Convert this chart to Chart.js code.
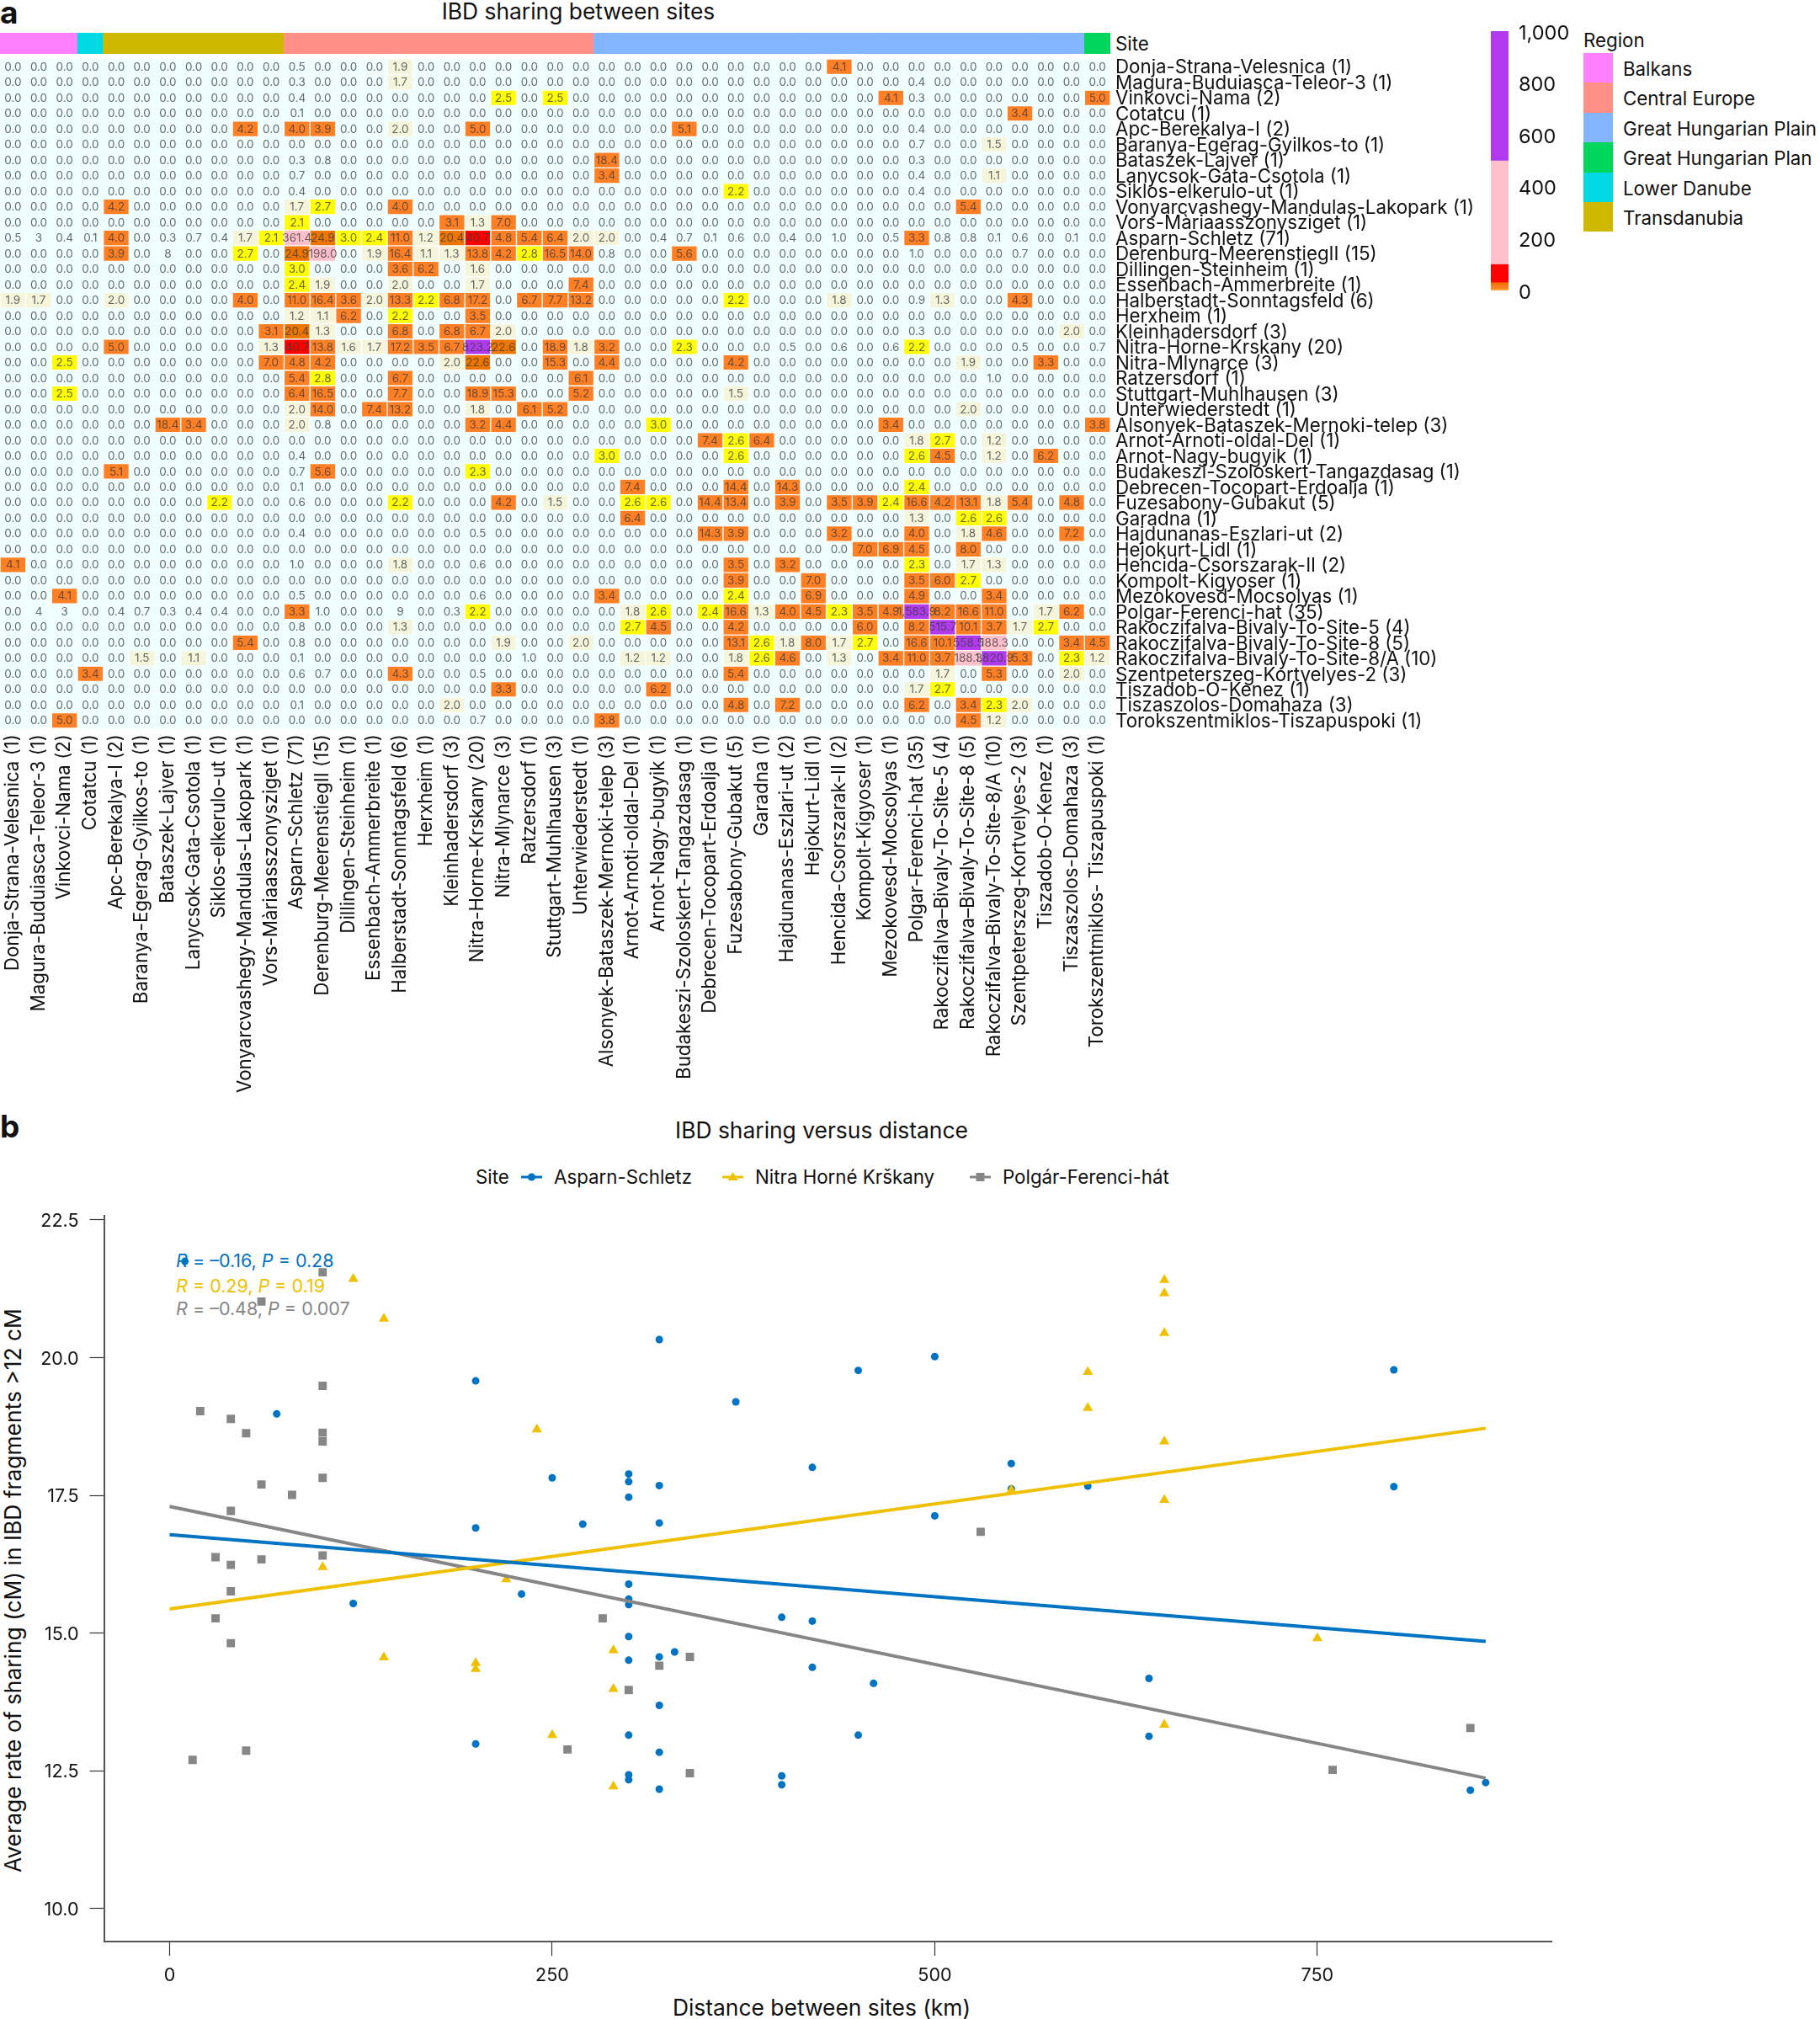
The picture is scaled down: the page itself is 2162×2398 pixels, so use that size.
<!DOCTYPE html>
<html>
<head>
<meta charset="utf-8">
<title>IBD sharing</title>
<script src="https://cdn.jsdelivr.net/npm/chart.js@4"></script>
<style>
  html, body { margin: 0; padding: 0; background: #fff; }
  body { position: relative; width: 2162px; height: 2398px; overflow: hidden; font-family: Inter, sans-serif; color: #111; }
  canvas { position: absolute; }
  .t { position: absolute; white-space: nowrap; line-height: 1; transform: translateY(-50%); font-size: 22.3px; }
  .c { transform: translate(-50%, -50%); }
  .swatch { position: absolute; left: 1881px; width: 35px; height: 35.4px; }
  svg { position: absolute; }
</style>
</head>
<body>
<div class="t" style="left:0;top:14px;font-size:37px;font-weight:700">a</div>
<div class="t" style="left:0;top:1337px;font-size:37px;font-weight:700">b</div>
<div class="t c" style="left:687px;top:13px;font-size:26.4px">IBD sharing between sites</div>
<div class="t" style="left:1325px;top:52px">Site</div>
<div class="t" style="left:1881px;top:48px">Region</div>
<div class="t c" style="left:976px;top:1342px;font-size:26.4px">IBD sharing versus distance</div>
<div class="t" style="left:565px;top:1398px">Site</div>
<div class="t" style="left:658px;top:1398px">Asparn-Schletz</div>
<div class="t" style="left:897px;top:1398px">Nitra Horné Krškany</div>
<div class="t" style="left:1191px;top:1398px">Polgár-Ferenci-hát</div>
<div class="t" style="left:209px;top:1498px;color:#0073C2;font-size:21.5px"><i>R</i> = –0.16, <i>P</i> = 0.28</div>
<div class="t" style="left:209px;top:1528px;color:#EFC000;font-size:21.5px"><i>R</i> = 0.29, <i>P</i> = 0.19</div>
<div class="t" style="left:209px;top:1555px;color:#868686;font-size:21.5px"><i>R</i> = –0.48, <i>P</i> = 0.007</div>
<div class="t c" style="left:15px;top:1889px;font-size:26.4px;transform:translate(-50%,-50%) rotate(-90deg)">Average rate of sharing (cM) in IBD fragments &gt;12 cM</div>
<div class="t c" style="left:976px;top:2384px;font-size:26.4px">Distance between sites (km)</div>
<svg style="left:619px;top:1388px" width="25" height="20"><path d="M0 10H25" stroke="#0073C2" stroke-width="3"/><circle cx="12.5" cy="10" r="4.5" fill="#0073C2"/></svg>
<svg style="left:858px;top:1388px" width="25" height="20"><path d="M0 10H25" stroke="#EFC000" stroke-width="3"/><path d="M12.5 4L18.5 14H6.5Z" fill="#EFC000"/></svg>
<svg style="left:1152px;top:1388px" width="25" height="20"><path d="M0 10H25" stroke="#868686" stroke-width="3"/><rect x="7.5" y="5" width="10" height="10" fill="#868686"/></svg>

<canvas id="strip" width="1319" height="25" style="left:0;top:38.5px"></canvas>
<canvas id="heat" width="1770" height="1240" style="left:0;top:70px"></canvas>
<canvas id="scale" width="110" height="340" style="left:1771px;top:20px"></canvas>
<canvas id="scatter" width="2162" height="998" style="left:0;top:1400px"></canvas>

<script>
const sites = [
  'Donja-Strana-Velesnica (1)', 'Magura-Buduiasca-Teleor-3 (1)', 'Vinkovci-Nama (2)', 'Cotatcu (1)',
  'Apc-Berekalya-I (2)', 'Baranya-Egerag-Gyilkos-to (1)', 'Bataszek-Lajver (1)', 'Lanycsok-Gata-Csotola (1)',
  'Siklos-elkerulo-ut (1)', 'Vonyarcvashegy-Mandulas-Lakopark (1)', 'Vors-Màriaasszonysziget (1)', 'Asparn-Schletz (71)',
  'Derenburg-MeerenstiegII (15)', 'Dillingen-Steinheim (1)', 'Essenbach-Ammerbreite (1)', 'Halberstadt-Sonntagsfeld (6)',
  'Herxheim (1)', 'Kleinhadersdorf (3)', 'Nitra-Horne-Krskany (20)', 'Nitra-Mlynarce (3)', 'Ratzersdorf (1)',
  'Stuttgart-Muhlhausen (3)', 'Unterwiederstedt (1)', 'Alsonyek-Bataszek-Mernoki-telep (3)', 'Arnot-Arnoti-oldal-Del (1)',
  'Arnot-Nagy-bugyik (1)', 'Budakeszi-Szoloskert-Tangazdasag (1)', 'Debrecen-Tocopart-Erdoalja (1)', 'Fuzesabony-Gubakut (5)',
  'Garadna (1)', 'Hajdunanas-Eszlari-ut (2)', 'Hejokurt-Lidl (1)', 'Hencida-Csorszarak-II (2)', 'Kompolt-Kigyoser (1)',
  'Mezokovesd-Mocsolyas (1)', 'Polgar-Ferenci-hat (35)', 'Rakoczifalva-Bivaly-To-Site-5 (4)', 'Rakoczifalva-Bivaly-To-Site-8 (5)',
  'Rakoczifalva-Bivaly-To-Site-8/A (10)', 'Szentpeterszeg-Kortvelyes-2 (3)', 'Tiszadob-O-Kenez (1)', 'Tiszaszolos-Domahaza (3)',
  'Torokszentmiklos-Tiszapuspoki (1)'
];
// the column labels are spelled slightly differently in the figure
const columnSites = sites.map(s => s.replace('Rakoczifalva-', 'Rakoczifalva–').replace('Torokszentmiklos-', 'Torokszentmiklos- '));

const regions = ['Balkans', 'Central Europe', 'Great Hungarian Plain', 'Great Hungarian Plan', 'Lower Danube', 'Transdanubia'];
const regionColours = ['#FF80FF', '#FF8F87', '#83B4FF', '#00D65C', '#00D9E3', '#CFB900'];
// region index of each site, in site order
const siteRegions = [0,0,0,4,5,5,5,5,5,5,5,1,1,1,1,1,1,1,1,1,1,1,1,2,2,2,2,2,2,2,2,2,2,2,2,2,2,2,2,2,2,2,3];

const bandBreaks = [0, 1, 2, 3, 20, 30, 100, 500, 1000];
const bandColours = ['#F0FFFF', '#F5F5DC', '#FFFF00', '#FF7F24', '#EE7600', '#FF0000', '#FFC0CB', '#B23AEE'];
const scaleTicks = [0, 200, 400, 600, 800, 1000];

// one entry per row, column number (1-based) -> mean IBD sharing, missing cells are 0.0
const sharingRows = [
  {12:.5,16:1.9,33:4.1},
  {12:.3,16:1.7,36:.4},
  {12:.4,20:2.5,22:2.5,35:4.1,36:.3,43:5},
  {12:.1,40:3.4},
  {10:4.2,12:4,13:3.9,16:2,19:5,27:5.1,36:.4},
  {36:.7,39:1.5},
  {12:.3,13:.8,24:18.4,36:.3},
  {12:.7,24:3.4,36:.4,39:1.1},
  {12:.4,29:2.2,36:.4},
  {5:4.2,12:1.7,13:2.7,16:4,38:5.4},
  {12:2.1,18:3.1,19:1.3,20:7},
  {1:.5,2:.3,3:.4,4:.1,5:4,7:.3,8:.7,9:.4,10:1.7,11:2.1,12:361.4,13:24.9,14:3,15:2.4,16:11,17:1.2,18:20.4,19:40.7,20:4.8,21:5.4,22:6.4,23:2,24:2,26:.4,27:.7,28:.1,29:.6,31:.4,33:1,35:.5,36:3.3,37:.8,38:.8,39:.1,40:.6,42:.1},
  {5:3.9,7:.8,10:2.7,12:24.9,13:198,15:1.9,16:16.4,17:1.1,18:1.3,19:13.8,20:4.2,21:2.8,22:16.5,23:14,24:.8,27:5.6,36:1,40:.7},
  {12:3,16:3.6,17:6.2,19:1.6},
  {12:2.4,13:1.9,16:2,19:1.7,23:7.4},
  {1:1.9,2:1.7,5:2,10:4,12:11,13:16.4,14:3.6,15:2,16:13.3,17:2.2,18:6.8,19:17.2,21:6.7,22:7.7,23:13.2,29:2.2,33:1.8,36:.9,37:1.3,40:4.3},
  {12:1.2,13:1.1,14:6.2,16:2.2,19:3.5},
  {11:3.1,12:20.4,13:1.3,16:6.8,18:6.8,19:6.7,20:2,36:.3,42:2},
  {5:5,11:1.3,12:40.7,13:13.8,14:1.6,15:1.7,16:17.2,17:3.5,18:6.7,19:823.2,20:22.6,22:18.9,23:1.8,24:3.2,27:2.3,31:.5,33:.6,35:.6,36:2.2,40:.5,43:.7},
  {3:2.5,11:7,12:4.8,13:4.2,18:2,19:22.6,22:15.3,24:4.4,29:4.2,38:1.9,41:3.3},
  {12:5.4,13:2.8,16:6.7,23:6.1,39:1},
  {3:2.5,12:6.4,13:16.5,16:7.7,19:18.9,20:15.3,23:5.2,29:1.5},
  {12:2,13:14,15:7.4,16:13.2,19:1.8,21:6.1,22:5.2,38:2},
  {7:18.4,8:3.4,12:2,13:.8,19:3.2,20:4.4,26:3,35:3.4,43:3.8},
  {28:7.4,29:2.6,30:6.4,36:1.8,37:2.7,39:1.2},
  {12:.4,24:3,29:2.6,36:2.6,37:4.5,39:1.2,41:6.2},
  {5:5.1,12:.7,13:5.6,19:2.3},
  {12:.1,25:7.4,29:14.4,31:14.3,36:2.4},
  {9:2.2,12:.6,16:2.2,20:4.2,22:1.5,25:2.6,26:2.6,28:14.4,29:13.4,31:3.9,33:3.5,34:3.9,35:2.4,36:16.6,37:4.2,38:13.1,39:1.8,40:5.4,42:4.8},
  {25:6.4,36:1.3,38:2.6,39:2.6},
  {12:.4,19:.5,28:14.3,29:3.9,33:3.2,36:4,38:1.8,39:4.6,42:7.2},
  {34:7,35:6.9,36:4.5,38:8},
  {1:4.1,12:1,16:1.8,19:.6,29:3.5,31:3.2,36:2.3,38:1.7,39:1.3},
  {29:3.9,32:7,36:3.5,37:6,38:2.7},
  {3:4.1,12:.5,19:.6,24:3.4,29:2.4,32:6.9,36:4.9,39:3.4},
  {2:.4,3:.3,5:.4,6:.7,7:.3,8:.4,9:.4,12:3.3,13:1,16:.9,18:.3,19:2.2,25:1.8,26:2.6,28:2.4,29:16.6,30:1.3,31:4,32:4.5,33:2.3,34:3.5,35:4.9,36:1583.9,37:8.2,38:16.6,39:11,41:1.7,42:6.2},
  {12:.8,16:1.3,25:2.7,26:4.5,29:4.2,34:6,36:8.2,37:515.7,38:10.1,39:3.7,40:1.7,41:2.7},
  {10:5.4,12:.8,20:1.9,23:2,29:13.1,30:2.6,31:1.8,32:8,33:1.7,34:2.7,36:16.6,37:10.1,38:558.5,39:188.3,42:3.4,43:4.5},
  {6:1.5,8:1.1,12:.1,21:1,25:1.2,26:1.2,29:1.8,30:2.6,31:4.6,33:1.3,35:3.4,36:11,37:3.7,38:188.3,39:1820.9,40:5.3,42:2.3,43:1.2},
  {4:3.4,12:.6,13:.7,16:4.3,19:.5,29:5.4,37:1.7,39:5.3,42:2},
  {20:3.3,26:6.2,36:1.7,37:2.7},
  {12:.1,18:2,29:4.8,31:7.2,36:6.2,38:3.4,39:2.3,40:2},
  {3:5,19:.7,24:3.8,38:4.5,39:1.2}
];
// a few cells lost their "0." in the original figure
const clippedLabels = { '12,2': '3', '13,7': '8', '36,2': '4', '36,3': '3', '36,16': '9' };

const asparnDistance = [10,70,120,200,200,200,230,250,270,300,300,300,300,300,300,300,300,300,300,300,320,320,320,320,320,320,320,330,370,400,400,400,420,420,420,450,450,460,500,500,550,550,600,640,640,800,800,850,860];
const asparnSharing = [21.75,18.98,15.54,19.58,16.91,12.99,15.71,17.82,16.98,17.89,17.75,17.47,15.89,15.62,15.52,14.94,14.51,13.15,12.43,12.34,20.33,17.68,17,14.57,13.69,12.84,12.17,14.66,19.2,15.29,12.41,12.25,18.01,15.22,14.38,19.77,13.15,14.09,20.02,17.13,18.08,17.62,17.67,14.18,13.13,19.78,17.66,12.15,12.29];
const nitraDistance = [100,120,140,140,200,200,220,240,250,290,290,290,550,600,600,650,650,650,650,650,650,750];
const nitraSharing = [16.2,21.43,20.71,14.56,14.46,14.35,15.98,18.7,13.15,14.69,13.99,12.22,17.6,19.74,19.09,21.41,21.17,20.45,18.48,17.42,13.34,14.91];
const polgarDistance = [15,20,30,30,40,40,40,40,40,50,50,60,60,60,80,100,100,100,100,100,100,260,283,300,320,340,340,530,760,850];
const polgarSharing = [12.7,19.03,16.38,15.27,18.89,17.22,16.24,15.76,14.82,18.63,12.87,21.02,17.7,16.34,17.51,21.55,19.49,18.64,18.48,17.82,16.41,12.89,15.27,13.97,14.41,14.57,12.46,16.84,12.52,13.28];

const fitDistance = [0, 860];
const asparnFit = [16.79, 14.85];
const nitraFit = [15.44, 18.72];
const polgarFit = [17.30, 12.37];

const distanceTicks = [0, 250, 500, 750];
const sharingTicks = [10, 12.5, 15, 17.5, 20, 22.5];

const FONT = 'Inter';
const BLUE = '#0073C2', YELLOW = '#EFC000', GREY = '#868686';

Chart.defaults.font.family = FONT;
Chart.defaults.animation = false;
Chart.defaults.responsive = false;
Chart.defaults.devicePixelRatio = 1;
Chart.defaults.plugins.legend.display = false;
Chart.defaults.plugins.tooltip.enabled = false;

function bandColour(v) {
  for (let i = 0; i < bandColours.length; i++) {
    if (v <= bandBreaks[i + 1]) return bandColours[i];
  }
  return bandColours[bandColours.length - 1];
}

function cellLabel(r, c) {
  const clipped = clippedLabels[(r + 1) + ',' + (c + 1)];
  if (clipped) return clipped;
  const v = sharingRows[r][c + 1] || 0;
  return v.toLocaleString('en-US', { minimumFractionDigits: 1, maximumFractionDigits: 1 });
}

// fixed axis box so the plot area lands where the figure has it
function fixBox(s, size) {
  if (s.isHorizontal()) s.height = size; else s.width = size;
  s.paddingTop = s.paddingBottom = s.paddingLeft = s.paddingRight = 0;
}

// region legend
regions.forEach((name, i) => {
  const sw = document.createElement('div');
  sw.className = 'swatch';
  sw.style.top = (63 + i * 35.4) + 'px';
  sw.style.background = regionColours[i];
  document.body.appendChild(sw);
  const lab = document.createElement('div');
  lab.className = 't';
  lab.style.left = '1928px';
  lab.style.top = (82 + i * 35.4) + 'px';
  lab.textContent = name;
  document.body.appendChild(lab);
});

// region strip above the heatmap
new Chart(document.getElementById('strip'), {
  type: 'bar',
  data: {
    labels: sites,
    datasets: [{
      data: sites.map(() => 1),
      backgroundColor: siteRegions.map(r => regionColours[r]),
      barPercentage: 1,
      categoryPercentage: 1
    }]
  },
  options: {
    layout: { autoPadding: false },
    scales: {
      x: { display: false },
      y: { display: false, min: 0, max: 1 }
    }
  }
});

const cellLabelsPlugin = {
  id: 'cellLabels',
  afterDatasetsDraw(chart) {
    const ctx = chart.ctx;
    ctx.save();
    ctx.font = '13.5px ' + FONT;
    ctx.fillStyle = 'rgba(60,60,60,0.78)';
    ctx.textAlign = 'center';
    ctx.textBaseline = 'middle';
    chart.data.datasets.forEach((ds, r) => {
      chart.getDatasetMeta(r).data.forEach((bar, c) => {
        ctx.fillText(cellLabel(r, c), bar.x, (bar.y + bar.base) / 2 + 0.5);
      });
    });
    ctx.restore();
  }
};

// every heatmap row is a dataset of floating bars spanning one unit of the y scale
new Chart(document.getElementById('heat'), {
  type: 'bar',
  data: {
    labels: columnSites,
    datasets: sharingRows.map((row, r) => {
      const colours = sites.map((s, c) => bandColour(row[c + 1] || 0));
      return {
        data: sites.map(() => [r, r + 1]),
        backgroundColor: colours,
        borderColor: colours.map(col => col === bandColours[0] ? col : 'rgba(255,255,255,0.22)'),
        borderWidth: 1,
        borderSkipped: false,
        barPercentage: 1,
        categoryPercentage: 1,
        grouped: false
      };
    })
  },
  plugins: [cellLabelsPlugin],
  options: {
    layout: { autoPadding: false },
    scales: {
      x: {
        grid: { display: false, drawTicks: false },
        border: { display: false },
        ticks: { autoSkip: false, minRotation: 90, maxRotation: 90, padding: 7, color: '#111', font: { size: 22.3 } },
        afterFit(s) { fixBox(s, 445); }
      },
      y: {
        position: 'right',
        reverse: true,
        min: 0,
        max: sites.length,
        grid: { display: false, drawTicks: false },
        border: { display: false },
        ticks: { autoSkip: false, padding: 6, labelOffset: 1.5, color: '#111', font: { size: 22.3 }, callback: (v, i) => sites[i] },
        afterBuildTicks(s) { s.ticks = sites.map((name, i) => ({ value: i + 0.5 })); },
        afterFit(s) { fixBox(s, 451); }
      }
    }
  }
});

// colour key
new Chart(document.getElementById('scale'), {
  type: 'bar',
  data: {
    labels: ['Sharing'],
    datasets: bandColours.map((col, i) => ({
      data: [[bandBreaks[i], bandBreaks[i + 1]]],
      backgroundColor: col === bandColours[0] ? bandColours[3] : col,
      barPercentage: 1,
      categoryPercentage: 1,
      grouped: false
    }))
  },
  options: {
    layout: { autoPadding: false, padding: { top: 17, bottom: 15 } },
    scales: {
      x: { display: false },
      y: {
        position: 'right',
        min: 0,
        max: 1000,
        grid: { display: false, drawTicks: false },
        border: { display: false },
        ticks: { padding: 12, labelOffset: 2.5, color: '#111', font: { size: 23.5 }, callback: v => v.toLocaleString('en-US') },
        afterBuildTicks(s) { s.ticks = scaleTicks.map(value => ({ value })); },
        afterFit(s) { fixBox(s, 89); }
      }
    }
  }
});

function points(xs, ys) {
  return xs.map((x, i) => ({ x, y: ys[i] }));
}

function pointSet(xs, ys, colour, style, radius) {
  return { data: points(xs, ys), showLine: false, pointStyle: style, pointRadius: radius, pointBorderWidth: 0, backgroundColor: colour, order: 2 };
}

function fitLine(ys, colour) {
  return { data: points(fitDistance, ys), showLine: true, borderColor: colour, borderWidth: 4, pointRadius: 0, order: 1 };
}

new Chart(document.getElementById('scatter'), {
  type: 'scatter',
  data: {
    datasets: [
      pointSet(polgarDistance, polgarSharing, GREY, 'rect', 7),
      pointSet(nitraDistance, nitraSharing, YELLOW, 'triangle', 7),
      pointSet(asparnDistance, asparnSharing, BLUE, 'circle', 4.5),
      fitLine(asparnFit, BLUE),
      fitLine(nitraFit, YELLOW),
      fitLine(polgarFit, GREY)
    ]
  },
  options: {
    layout: { autoPadding: false, padding: { top: 43.5, right: 319 } },
    scales: {
      x: {
        type: 'linear',
        min: -42.9,
        max: 903,
        grid: { drawOnChartArea: false, tickLength: 17, tickColor: '#333', tickWidth: 1.2 },
        border: { color: '#555', width: 2 },
        ticks: { padding: 11, color: '#111', font: { size: 21.5 }, callback: v => String(v) },
        afterBuildTicks(s) { s.ticks = distanceTicks.map(value => ({ value })); },
        afterFit(s) { fixBox(s, 92); }
      },
      y: {
        min: 9.404,
        max: 22.584,
        grid: { drawOnChartArea: false, tickLength: 17, tickColor: '#333', tickWidth: 1.2 },
        border: { color: '#555', width: 2 },
        ticks: { padding: 13, labelOffset: 1.5, color: '#111', font: { size: 21.5 }, callback: v => v.toFixed(1) },
        afterBuildTicks(s) { s.ticks = sharingTicks.map(value => ({ value })); },
        afterFit(s) { fixBox(s, 123.5); }
      }
    }
  }
});
</script>
</body>
</html>
